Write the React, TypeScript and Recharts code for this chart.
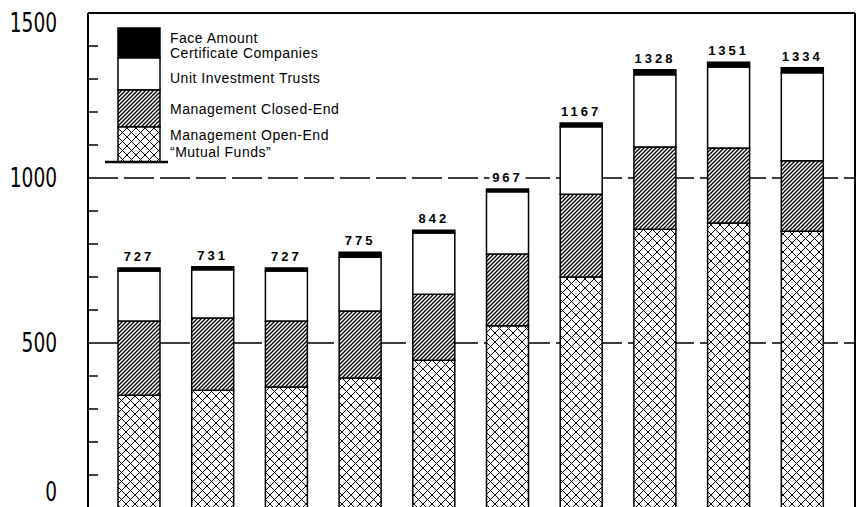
import { BarChart, Bar, XAxis, YAxis, CartesianGrid, ReferenceLine, LabelList, Legend } from 'recharts';

const periods = ['1', '2', '3', '4', '5', '6', '7', '8', '9', '10'];
const openEnd = [342, 357, 367, 394, 448, 552, 700, 845, 864, 839];
const closedEnd = [225, 219, 200, 203, 200, 218, 251, 249, 227, 213];
const unitTrusts = [151, 146, 151, 163, 185, 188, 204, 219, 245, 267];
const faceAmount = [9, 9, 9, 15, 9, 9, 12, 15, 15, 15];
const totals = [727, 731, 727, 775, 842, 967, 1167, 1328, 1351, 1334];
const yTicks = [0, 100, 200, 300, 400, 500, 600, 700, 800, 900, 1000, 1100, 1200, 1300, 1400, 1500];
const yLabels = [0, 500, 1000, 1500];

const data = periods.map((p, i) => ({
	period: p,
	openEnd: openEnd[i],
	closedEnd: closedEnd[i],
	unitTrusts: unitTrusts[i],
	faceAmount: faceAmount[i],
	total: totals[i]
}));

const LABEL_FONT = "'Liberation Sans', Arial, sans-serif";
const AXIS_FONT = "'Liberation Sans Narrow', 'DejaVu Sans Condensed', sans-serif";

const LeftTick = (props: any) => {
	const { x, y, payload } = props;
	const v = payload.value;
	const long = v === 500 || v === 1000;
	let dy = 9;
	if (v === 1500) dy = 19;
	if (v === 0) dy = -7;
	const digits = String(v).length;
	return (
		<g>
			<line x1={x} x2={x + (long ? 0 : 10)} y1={y} y2={y} stroke="#000" strokeWidth={1.5} />
			{yLabels.includes(v) && (
				<text
					x={x - 31}
					y={y + dy}
					textAnchor="end"
					fontFamily={AXIS_FONT}
					fontSize={27}
					fill="#000"
					textLength={digits * 11.8}
					lengthAdjust="spacingAndGlyphs"
				>
					{v}
				</text>
			)}
		</g>
	);
};

const RightTick = (props: any) => {
	const { x, y, payload } = props;
	if (payload.value === 500 || payload.value === 1000 || payload.value === 1500) return <g />;
	return <line x1={x} x2={x - 10} y1={y} y2={y} stroke="#000" strokeWidth={1.5} />;
};

const TotalLabel = (props: any) => {
	const { x, y, width, value } = props;
	const cx = x + width / 2;
	const w = String(value).length * 10 + 6;
	return (
		<g>
			<rect x={cx - w / 2} y={y - 19} width={w} height={14} fill="#fff" />
			<text x={cx} y={y - 7} textAnchor="middle" fill="#000" fontFamily={LABEL_FONT} fontSize={13} fontWeight="bold" letterSpacing={3}>
				{value}
			</text>
		</g>
	);
};

const renderLegend = () => (
	<svg width={260} height={150}>
		<rect x={18} y={8} width={42} height={30} fill="#000" stroke="#000" strokeWidth={1.5} />
		<rect x={18} y={38} width={42} height={32} fill="#fff" stroke="#000" strokeWidth={1.5} />
		<rect x={18} y={70} width={42} height={37} fill="url(#hatch)" stroke="#000" strokeWidth={1.5} />
		<rect x={18} y={107} width={42} height={35} fill="url(#cross)" stroke="#000" strokeWidth={1.5} />
		<line x1={5} x2={68} y1={142} y2={142} stroke="#000" strokeWidth={2.5} />
		<g fontFamily={LABEL_FONT} fontSize={14} letterSpacing={0.5} fill="#000">
			<text x={70} y={23}>Face Amount</text>
			<text x={70} y={38}>Certificate Companies</text>
			<text x={70} y={63}>Unit Investment Trusts</text>
			<text x={70} y={94}>Management Closed-End</text>
			<text x={70} y={120}>Management Open-End</text>
			<text x={70} y={137}>{'\u201cMutual Funds\u201d'}</text>
		</g>
	</svg>
);

export default function App() {
	return (
		<div style={{ position: 'absolute', left: 0, top: 0, background: '#fff' }}>
			<BarChart width={868} height={520} data={data} margin={{ top: 13, right: 0, bottom: 12, left: 0 }} barSize={42}>
				<defs>
					<pattern id="cross" width={9} height={9} patternUnits="userSpaceOnUse">
						<rect width={9} height={9} fill="#fff" />
						<path d="M0,0 L9,9 M9,0 L0,9" stroke="#000" strokeWidth={1} />
					</pattern>
					<pattern id="hatch" width={4} height={4} patternUnits="userSpaceOnUse">
						<rect width={4} height={4} fill="#fff" />
						<path d="M-1,1 L1,-1 M0,4 L4,0 M3,5 L5,3" stroke="#000" strokeWidth={1.3} />
					</pattern>
				</defs>
				<CartesianGrid horizontal vertical={false} horizontalValues={[500, 1000]} stroke="#000" strokeWidth={1.5} strokeDasharray="30 6" />
				<XAxis dataKey="period" hide padding={{ left: 14, right: 16 }} />
				<YAxis
					domain={[0, 1500]}
					ticks={yTicks}
					interval={0}
					width={88}
					axisLine={{ stroke: '#000', strokeWidth: 2 }}
					tickLine={false}
					tickSize={0}
					tickMargin={0}
					tick={LeftTick}
				/>
				<YAxis
					yAxisId="right"
					orientation="right"
					domain={[0, 1500]}
					ticks={yTicks}
					interval={0}
					width={13}
					axisLine={{ stroke: '#000', strokeWidth: 2 }}
					tickLine={false}
					tickSize={0}
					tickMargin={0}
					tick={RightTick}
				/>
				<ReferenceLine y={1500} stroke="#000" strokeWidth={2} />
				<Legend
					layout="horizontal"
					verticalAlign="middle"
					content={renderLegend}
					wrapperStyle={{ position: 'absolute', left: 100, top: 20, width: 260, height: 150 }}
				/>
				<Bar dataKey="openEnd" stackId="a" fill="url(#cross)" stroke="#000" strokeWidth={1.5} isAnimationActive={false} />
				<Bar dataKey="closedEnd" stackId="a" fill="url(#hatch)" stroke="#000" strokeWidth={1.5} isAnimationActive={false} />
				<Bar dataKey="unitTrusts" stackId="a" fill="#fff" stroke="#000" strokeWidth={1.5} isAnimationActive={false} />
				<Bar dataKey="faceAmount" stackId="a" fill="#000" stroke="#000" strokeWidth={1.5} isAnimationActive={false}>
					<LabelList dataKey="total" content={TotalLabel} />
				</Bar>
			</BarChart>
		</div>
	);
}
